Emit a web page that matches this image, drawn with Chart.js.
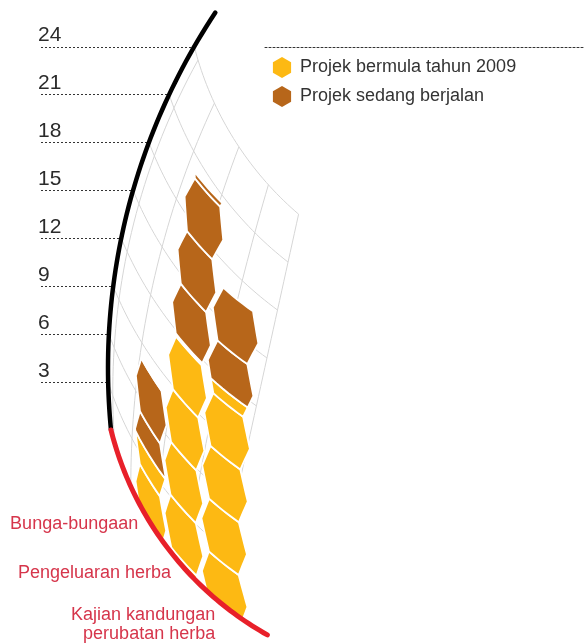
<!DOCTYPE html>
<html>
<head>
<meta charset="utf-8">
<script src="https://cdn.jsdelivr.net/npm/chart.js@4.4.1/dist/chart.umd.min.js"></script>
<style>
  html, body { margin: 0; padding: 0; background: #ffffff; }
  canvas { display: block; }
</style>
</head>
<body>
<canvas id="carta" width="584" height="644"></canvas>
<script>
// data
const categories = ['Bunga-bungaan', 'Pengeluaran herba', ['Kajian kandungan', 'perubatan herba']];
const started2009 = [4.2, 13.7, 13.3];
const ongoing = [5.05, 10.05, 5.85];
const seriesNames = ['Projek bermula tahun 2009', 'Projek sedang berjalan'];
const seriesColours = ['#fdb913', '#b7661a'];
const tickValues = [3, 6, 9, 12, 15, 18, 21, 24];

// layout of the bent axes (pixels)
const BLACK_C = [750, 368], BLACK_R = 642;   // circle the value axis sits on
const RED_C = [427, 351];                    // centre of the category axis arc
const S_SHIFT = -8;                          // category pixel -> arc length on red axis
const RED_END = 265;
const GRID_END = 200, GRID_LEAN = 0.22;
const GRID_S = [14, 60, 110, 158, 200];
const HEX_BEND = 0.3;                        // how much hex columns follow the black curve
const HEX_H = 1.65;                          // half height of a cell, in value units
const HEX_PHASE = 1.0, HEX_ODD = 1.0;        // cell offsets, value units
const HEX_FLAT = 0.34, HEX_TIP = 0.52;       // half flat edge / half width, as part of pitch
const LABEL_DS = [2, 8, 15], LABEL_GAP = [13, 18, 21];
const DOT_X0 = 41;
const FONT = "'Liberation Sans', Arial, sans-serif";

function blackX(py) {
  const d = py - BLACK_C[1];
  return BLACK_C[0] - Math.sqrt(Math.max(0, BLACK_R * BLACK_R - d * d));
}

function geom(chart) {
  const y = chart.scales.y;
  const yJ = y.getPixelForValue(0);
  const xJ = blackX(yJ);
  const rr = Math.hypot(xJ - RED_C[0], yJ - RED_C[1]);
  const tJ = Math.atan2(yJ - RED_C[1], xJ - RED_C[0]);
  const red = s => [RED_C[0] + rr * Math.cos(tJ - s / rr), RED_C[1] + rr * Math.sin(tJ - s / rr)];
  const hexPt = (s, v) => {
    const yv = y.getPixelForValue(v);
    const p = red(s);
    return [p[0] + HEX_BEND * (blackX(yv) - xJ), p[1] + yv - yJ];
  };
  const gridPt = (s, v) => {
    const yv = y.getPixelForValue(v);
    const p = red(s);
    const f = s / GRID_END;
    return [p[0] + (1 - f) * (blackX(yv) - xJ) + f * GRID_LEAN * (yJ - yv), p[1] + yv - yJ];
  };
  return { y, yJ, xJ, red, hexPt, gridPt };
}

function sample(fn, a, b, n) {
  const pts = [];
  for (let i = 0; i <= n; i++) pts.push(fn(a + (b - a) * i / n));
  return pts;
}

function tracePath(ctx, pts, close) {
  ctx.beginPath();
  pts.forEach((p, i) => i ? ctx.lineTo(p[0], p[1]) : ctx.moveTo(p[0], p[1]));
  if (close) ctx.closePath();
}

function clipV(poly, lim, keepAbove) {
  const out = [];
  for (let i = 0; i < poly.length; i++) {
    const p = poly[i], q = poly[(i + 1) % poly.length];
    const pin = keepAbove ? p[1] >= lim : p[1] <= lim;
    const qin = keepAbove ? q[1] >= lim : q[1] <= lim;
    if (pin) out.push(p);
    if (pin !== qin) {
      const t = (lim - p[1]) / (q[1] - p[1]);
      out.push([p[0] + t * (q[0] - p[0]), lim]);
    }
  }
  return out;
}

function warpPoly(poly, fn) {
  const pts = [];
  for (let i = 0; i < poly.length; i++) {
    const p = poly[i], q = poly[(i + 1) % poly.length];
    for (let k = 0; k < 6; k++) {
      const t = k / 6;
      pts.push(fn(p[0] + t * (q[0] - p[0]), p[1] + t * (q[1] - p[1])));
    }
  }
  return pts;
}

function legendHex(ctx, x, y, r) {
  ctx.beginPath();
  for (let k = 0; k < 6; k++) {
    const a = Math.PI / 2 + k * Math.PI / 3;
    const px = x + r * Math.cos(a), py = y - r * Math.sin(a);
    k ? ctx.lineTo(px, py) : ctx.moveTo(px, py);
  }
  ctx.closePath();
  ctx.fill();
}

const bentAxes = {
  id: 'bentAxes',
  beforeDatasetsDraw(chart) {
    const ctx = chart.ctx;
    const g = geom(chart);
    const xs = chart.scales.x;
    ctx.save();

    // dotted tick lines up to the black curve
    ctx.strokeStyle = '#333333';
    ctx.lineWidth = 1;
    ctx.setLineDash([2, 2]);
    tickValues.forEach(v => {
      const py = Math.round(g.y.getPixelForValue(v)) + 0.5;
      tracePath(ctx, [[DOT_X0, py], [blackX(py), py]]);
      ctx.stroke();
    });
    ctx.setLineDash([]);

    // light grid
    ctx.strokeStyle = '#d6d6d6';
    ctx.lineWidth = 1;
    const vTop = tickValues[tickValues.length - 1];
    tickValues.forEach(v => {
      tracePath(ctx, sample(s => g.gridPt(s, v), 0, GRID_END, 40));
      ctx.stroke();
    });
    GRID_S.forEach(s => {
      tracePath(ctx, sample(v => g.gridPt(s, v), 0, vTop, 40));
      ctx.stroke();
    });

    // stacked columns as honeycomb cells
    const pitch = xs.getPixelForValue(1) - xs.getPixelForValue(0);
    const hb = pitch * HEX_FLAT, ha = pitch * HEX_TIP;
    ctx.strokeStyle = '#ffffff';
    ctx.lineWidth = 1.8;
    ctx.lineJoin = 'round';
    chart.data.labels.forEach((_, i) => {
      const sc = xs.getPixelForValue(i) - S_SHIFT;
      let lo = 0;
      chart.data.datasets.forEach(ds => {
        const hi = lo + ds.data[i];
        ctx.fillStyle = ds.backgroundColor;
        for (let vc = HEX_PHASE + (i % 2 ? HEX_ODD : 0) - 2 * HEX_H; vc - HEX_H < hi; vc += 2 * HEX_H) {
          let poly = [[sc + ha, vc], [sc + hb, vc + HEX_H], [sc - hb, vc + HEX_H],
                      [sc - ha, vc], [sc - hb, vc - HEX_H], [sc + hb, vc - HEX_H]];
          poly = clipV(clipV(poly, lo, true), hi, false);
          if (poly.length < 3) continue;
          tracePath(ctx, warpPoly(poly, g.hexPt), true);
          ctx.fill();
          ctx.stroke();
        }
        lo = hi;
      });
    });
    ctx.restore();
    return false;
  },
  afterDraw(chart) {
    const ctx = chart.ctx;
    const g = geom(chart);
    const xs = chart.scales.x;
    ctx.save();
    ctx.lineCap = 'round';

    // value axis: black curve
    ctx.strokeStyle = '#000000';
    ctx.lineWidth = 4.5;
    tracePath(ctx, sample(v => { const py = g.y.getPixelForValue(v); return [blackX(py), py]; }, 0, g.y.max, 60));
    ctx.stroke();

    // category axis: red curve
    ctx.strokeStyle = '#e8202a';
    ctx.lineWidth = 5;
    tracePath(ctx, sample(g.red, 0, RED_END, 60));
    ctx.stroke();

    // category labels
    ctx.fillStyle = '#d6354b';
    ctx.font = '18px ' + FONT;
    ctx.textAlign = 'right';
    ctx.textBaseline = 'middle';
    chart.data.labels.forEach((lab, i) => {
      const p = g.red(xs.getPixelForValue(i) - S_SHIFT + LABEL_DS[i]);
      const lines = Array.isArray(lab) ? lab : [lab];
      lines.forEach((t, k) => ctx.fillText(t, p[0] - LABEL_GAP[i], p[1] + k * 19.5));
    });

    // legend
    const ly = Math.round(g.y.getPixelForValue(tickValues[tickValues.length - 1])) + 0.5;
    ctx.strokeStyle = '#333333';
    ctx.lineWidth = 1;
    ctx.setLineDash([2, 2]);
    tracePath(ctx, [[265, ly], [584, ly]]);
    ctx.stroke();
    ctx.setLineDash([]);
    ctx.textAlign = 'left';
    ctx.font = '18px ' + FONT;
    chart.data.datasets.forEach((ds, d) => {
      const cy = ly + 20 + d * 29;
      ctx.fillStyle = ds.backgroundColor;
      legendHex(ctx, 282, cy, 10.5);
      ctx.fillStyle = '#333333';
      ctx.fillText(ds.label, 300, cy);
    });
    ctx.restore();
  }
};

new Chart(document.getElementById('carta'), {
  type: 'bar',
  data: {
    labels: categories,
    datasets: [
      { label: seriesNames[0], data: started2009, backgroundColor: seriesColours[0] },
      { label: seriesNames[1], data: ongoing, backgroundColor: seriesColours[1] }
    ]
  },
  options: {
    responsive: false,
    animation: false,
    layout: { padding: { left: 38, top: 12, right: 351, bottom: 214 } },
    plugins: { legend: { display: false }, tooltip: { enabled: false } },
    scales: {
      x: { display: false, stacked: true },
      y: {
        stacked: true,
        min: 0,
        max: 26.125,
        grid: { display: false },
        border: { display: false },
        afterBuildTicks: axis => { axis.ticks = tickValues.map(v => ({ value: v })); },
        afterFit: axis => { axis.width = 27; },
        ticks: {
          crossAlign: 'far',
          labelOffset: -11,
          padding: 0,
          color: '#2b2b2b',
          font: { family: FONT, size: 21 }
        }
      }
    }
  },
  plugins: [bentAxes]
});
</script>
</body>
</html>
